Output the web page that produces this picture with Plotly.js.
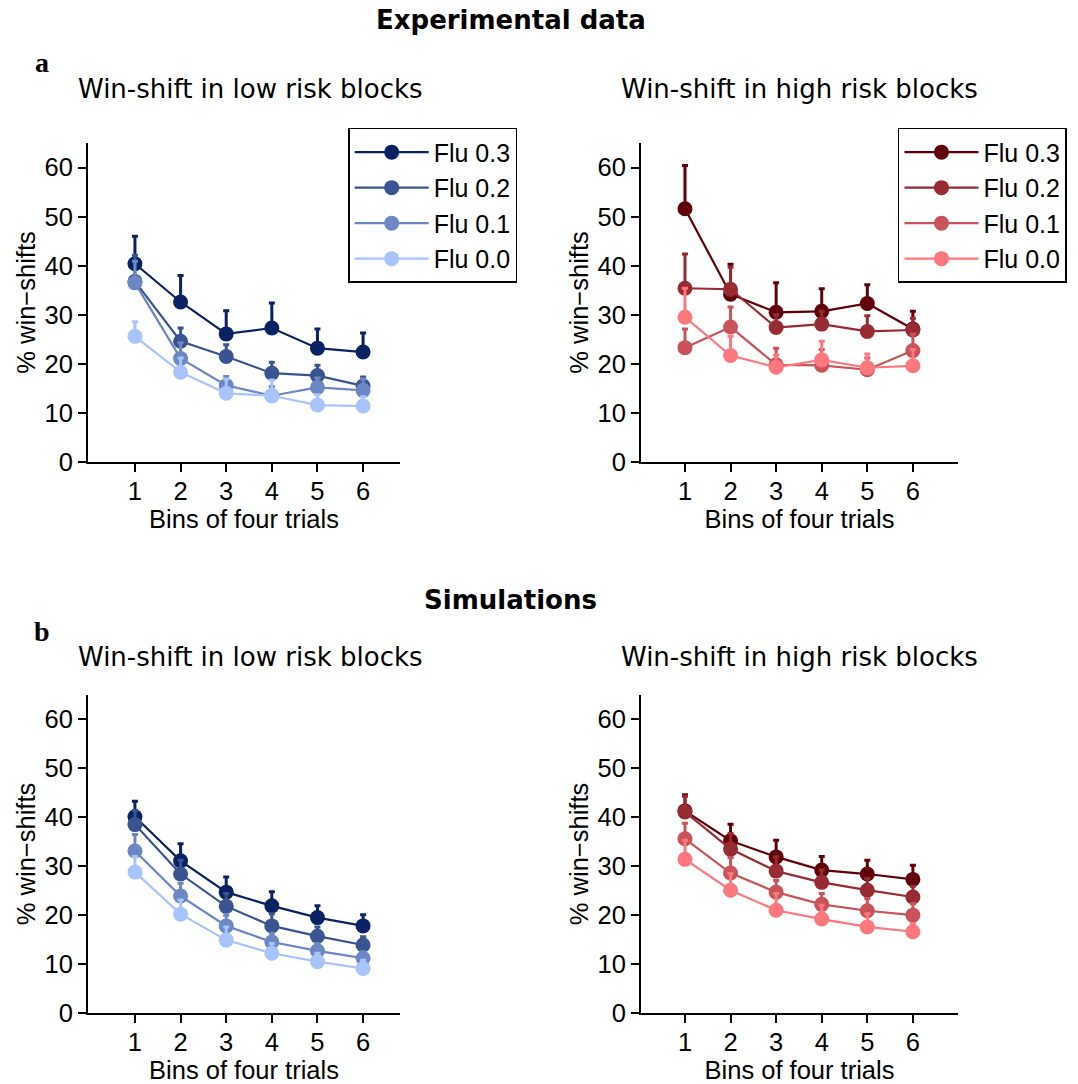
<!DOCTYPE html>
<html>
<head>
<meta charset="utf-8">
<script src="https://cdn.plot.ly/plotly-3.0.1.min.js"></script>
<style>html,body{margin:0;padding:0;background:#fff;}#chart{width:1078px;height:1084px;}</style>
</head>
<body>
<div id="chart"></div>
<script>
// ---- data ----
const bins = [1, 2, 3, 4, 5, 6];
const seriesNames = ["Flu 0.3", "Flu 0.2", "Flu 0.1", "Flu 0.0"];
const blueColors = ["#0a2263", "#3a5491", "#6c87c3", "#a8c3fd"];
const redColors = ["#62000a", "#982a33", "#ca525a", "#fd787e"];

// Experimental, low risk (mean, upper error)
const expLowMean = [
  [40.4, 32.6, 26.1, 27.3, 23.2, 22.4],
  [36.8, 24.6, 21.5, 18.1, 17.6, 15.5],
  [36.5, 21.1, 15.6, 13.5, 15.2, 14.6],
  [25.6, 18.3, 14.0, 13.5, 11.6, 11.4]
];
const expLowErr = [
  [5.6, 5.4, 4.7, 5.1, 3.9, 3.9],
  [5.3, 2.7, 2.4, 2.2, 2.1, 1.8],
  [4.4, 3.2, 1.8, 1.9, 1.9, 2.3],
  [3.0, 2.9, 2.9, 3.2, 2.1, 1.9]
];
// Experimental, high risk
const expHighMean = [
  [51.6, 34.2, 30.5, 30.7, 32.3, 27.1],
  [35.4, 35.2, 27.4, 28.1, 26.6, 26.9],
  [23.3, 27.5, 19.8, 19.7, 18.8, 22.7],
  [29.5, 21.7, 19.3, 20.8, 19.2, 19.6]
];
const expHighErr = [
  [8.8, 6.1, 6.0, 4.6, 3.8, 3.6],
  [7.0, 4.5, 2.6, 2.6, 3.2, 2.4],
  [3.8, 4.1, 3.4, 3.2, 2.4, 3.4],
  [5.9, 3.9, 2.5, 3.8, 2.8, 3.3]
];
// Simulations, low risk
const simLowMean = [
  [40.1, 31.1, 24.7, 21.9, 19.5, 17.8],
  [38.5, 28.4, 21.8, 17.8, 15.7, 13.9],
  [33.1, 23.9, 17.8, 14.5, 12.7, 11.2],
  [28.8, 20.2, 14.9, 12.2, 10.5, 9.1]
];
const simLowErr = [
  [3.2, 3.5, 3.1, 2.9, 2.4, 2.3],
  [2.9, 2.8, 2.6, 2.5, 1.9, 1.7],
  [3.4, 2.6, 2.2, 1.8, 1.5, 1.3],
  [3.2, 2.9, 2.7, 2.0, 1.7, 1.7]
];
// Simulations, high risk
const simHighMean = [
  [41.3, 35.2, 31.9, 29.2, 28.4, 27.3],
  [41.1, 33.5, 29.0, 26.7, 25.1, 23.7],
  [35.6, 28.6, 24.7, 22.2, 20.9, 20.0],
  [31.4, 25.1, 21.0, 19.2, 17.6, 16.6]
];
const simHighErr = [
  [3.3, 3.4, 3.4, 2.8, 2.8, 2.9],
  [3.2, 3.2, 2.9, 2.5, 2.4, 2.2],
  [3.2, 3.2, 2.4, 2.2, 2.5, 2.4],
  [3.9, 3.4, 3.4, 2.8, 2.7, 1.7]
];

const titleTop = "Experimental data";
const titleBottom = "Simulations";
const panelLow = "Win-shift in low risk blocks";
const panelHigh = "Win-shift in high risk blocks";
const xTitle = "Bins of four trials";
const yTitle = "% win\u2212shifts";
const yTicks = [0, 10, 20, 30, 40, 50, 60];

// ---- build traces ----
const traces = [];
function addPanel(means, errs, colors, xa, ya, legendId, show) {
  for (let i = 0; i < means.length; i++) {
    traces.push({
      type: "scatter", mode: "lines+markers",
      x: bins, y: means[i], name: seriesNames[i],
      xaxis: xa, yaxis: ya,
      legend: legendId, showlegend: show,
      line: {color: colors[i], width: 2.2},
      marker: {color: colors[i], size: 15},
      error_y: {type: "data", symmetric: false, array: errs[i], arrayminus: bins.map(() => 0),
                color: colors[i], thickness: 3, width: 3}
    });
  }
}
addPanel(expLowMean, expLowErr, blueColors, "x", "y", "legend", true);
addPanel(expHighMean, expHighErr, redColors, "x2", "y2", "legend2", true);
addPanel(simLowMean, simLowErr, blueColors, "x3", "y3", "legend", false);
addPanel(simHighMean, simHighErr, redColors, "x4", "y4", "legend2", false);

const tickFont = {family: "Liberation Sans, Arial, sans-serif", size: 25.5, color: "#000"};
function xAxis(domain, anchor, range) {
  return {domain: domain, anchor: anchor, range: range, tickvals: bins, ticktext: bins.map(String),
    showline: true, linecolor: "#000", linewidth: 2, ticks: "outside", ticklen: 8, tickwidth: 2,
    tickcolor: "#000", showgrid: false, zeroline: false, tickfont: tickFont, automargin: false,
    ticklabelstandoff: -3,
    title: {text: xTitle, font: tickFont, standoff: 0}};
}
function yAxis(domain, anchor) {
  return {domain: domain, anchor: anchor, range: [0, 65], tickvals: yTicks,
    showline: true, linecolor: "#000", linewidth: 2, ticks: "outside", ticklen: 8, tickwidth: 2,
    tickcolor: "#000", showgrid: false, zeroline: false, tickfont: tickFont, automargin: false,
    title: {text: yTitle, font: tickFont, standoff: 2}};
}
const dxL = [0.0816, 0.3711], dxR = [0.5946, 0.8887];
const dyT = [0.5738, 0.8681], dyB = [0.0655, 0.3589];

const legendBase = {bordercolor: "#000", borderwidth: 1.5, bgcolor: "#fff",
  font: {family: "Liberation Sans, Arial, sans-serif", size: 25, color: "#000"},
  xanchor: "left", yanchor: "top", tracegroupgap: 0, itemwidth: 74};

const titleFont = {family: "DejaVu Sans", size: 26, color: "#000"};
const headFont = {family: "DejaVu Sans", size: 26, color: "#000", weight: "bold"};
const letterFont = {family: "Liberation Serif", size: 28, color: "#000", weight: "bold"};
function ann(text, x, y, font) {
  return {text: text, x: x, y: y, xref: "paper", yref: "paper", showarrow: false,
    xanchor: "center", yanchor: "middle", font: font};
}

const layout = {
  width: 1078, height: 1084,
  margin: {l: 0, r: 0, t: 0, b: 0},
  paper_bgcolor: "#fff", plot_bgcolor: "#fff",
  xaxis: xAxis(dxL, "y", [-0.03, 6.81]),
  yaxis: yAxis(dyT, "x"),
  xaxis2: xAxis(dxR, "y2", [0.035, 6.99]),
  yaxis2: yAxis(dyT, "x2"),
  xaxis3: xAxis(dxL, "y3", [-0.03, 6.81]),
  yaxis3: yAxis(dyB, "x3"),
  xaxis4: xAxis(dxR, "y4", [0.035, 6.99]),
  yaxis4: yAxis(dyB, "x4"),
  legend: Object.assign({}, legendBase, {x: 0.323, y: 0.882}),
  legend2: Object.assign({}, legendBase, {x: 0.833, y: 0.882}),
  annotations: [
    ann("<b>" + titleTop + "</b>", 0.474, 0.9815, headFont),
    ann("<b>" + titleBottom + "</b>", 0.474, 0.4465, headFont),
    ann("<b>a</b>", 0.039, 0.942, letterFont),
    ann("<b>b</b>", 0.039, 0.417, letterFont),
    ann(panelLow, 0.2328, 0.918, titleFont),
    ann(panelHigh, 0.742, 0.918, titleFont),
    ann(panelLow, 0.2328, 0.394, titleFont),
    ann(panelHigh, 0.742, 0.394, titleFont)
  ]
};

Plotly.newPlot("chart", traces, layout, {displayModeBar: false, staticPlot: true});
</script>
</body>
</html>
